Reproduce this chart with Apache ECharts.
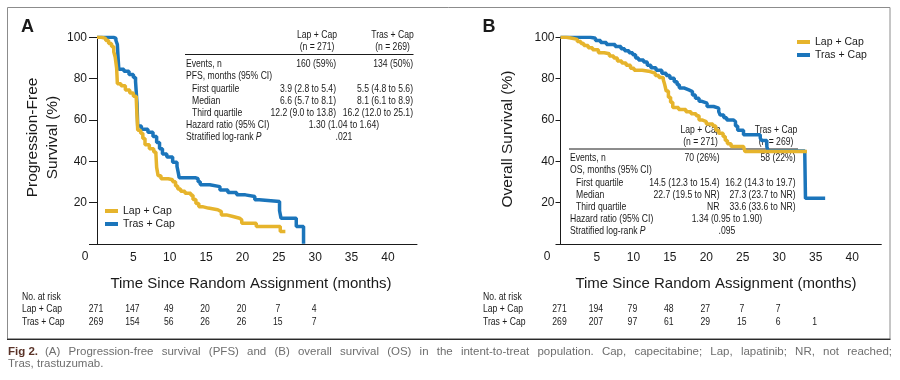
<!DOCTYPE html>
<html><head><meta charset="utf-8">
<script src="https://cdn.jsdelivr.net/npm/echarts@6/dist/echarts.min.js"></script>
<style>html,body{margin:0;padding:0;background:#fff}#c{width:900px;height:380px}</style>
</head><body><div id="c"></div>
<script>
// ---- data ----
const seriesNames = ['Lap + Cap', 'Tras + Cap'];
const xTickLabels = [5, 10, 15, 20, 25, 30, 35, 40];
const yTickLabels = [20, 40, 60, 80, 100];

const pfsLap = [[0,100],[0.6,99.5],[1.2,98.5],[1.6,97],[2,95.5],[2.3,93],[2.5,90.5],[2.7,85],[2.8,77.5],[3.3,76.5],[3.9,74.5],[4.5,73],[5,71.5],[5.4,70],[5.5,62],[5.6,55],[6,53.5],[6.3,51],[6.6,48],[7.2,46],[7.8,44.5],[8.1,43.5],[8.2,37],[8.4,33],[8.8,31.5],[9.8,31],[10.4,30],[10.8,28],[11.1,26.5],[11.5,25.5],[12.1,24.5],[12.9,23.5],[13.2,21.5],[13.6,19.5],[14,18],[14.5,17.3],[15.3,16.5],[16.6,15.6],[17.1,14],[17.8,13.2],[18.7,12.4],[19.6,11.6],[19.9,10],[21.9,8.4],[25.2,6],[25.9,6]];
const pfsTras = [[0,100],[1.5,100],[2.3,99.5],[2.6,98.5],[2.8,96.5],[2.9,90],[3,84.5],[3.7,83.5],[4.4,82],[5,80.5],[5.3,78.5],[5.5,68],[5.6,57],[6.1,55.5],[7,54],[7.7,52],[8.2,49],[8.6,46],[9,43.5],[9.6,42],[10.4,39.5],[11,37.5],[11.2,34],[11.3,32],[13.5,31.5],[13.9,30],[14.2,28.6],[15.5,27.7],[16.9,26.1],[18,24.8],[19.2,23.7],[20.4,22.9],[21.7,21.3],[22.3,20.5],[25.1,16],[25.3,12.4],[27.4,8.4],[28.4,0]];
const osLap = [[0,100],[0.8,99.5],[1.6,99],[2.3,98],[2.8,97],[3.2,96],[3.8,95],[4.4,94],[5.2,92.5],[6,92],[6.7,91],[7.3,90],[7.8,88.5],[8.4,87.5],[9,86.5],[9.6,85],[10.1,84],[11.2,83.4],[12.3,82.6],[13,81.5],[13.5,80.5],[14.1,79.4],[14.3,77],[14.5,74],[14.8,71],[15.1,68.5],[15.4,66],[16.2,65],[17.2,64],[17.9,63],[18.6,62],[19,60],[19.4,59.2],[20,58],[20.9,57],[21.3,55],[21.7,53.5],[22.3,52],[22.6,50],[22.9,48.5],[23.4,47.1],[25.1,46.3],[25.3,44.7],[33.8,44.7]];
const osTras = [[0,100],[3.5,100],[4.1,99.5],[4.8,98.5],[5.5,97.5],[6.3,96.5],[7.5,95.5],[8.3,94.5],[8.8,93.5],[9.4,92.5],[9.9,91.5],[10.3,90],[10.7,89],[11.4,88],[11.9,86.5],[12.4,85.3],[13.1,84],[13.9,82.6],[14.5,81.5],[15,80.2],[15.6,78.5],[16,77],[16.3,75.4],[17,74.5],[17.6,73.7],[18.1,72],[18.5,70.5],[19,69],[19.4,68.1],[20.1,66.5],[21,65.7],[21.7,64],[21.9,62.4],[22.4,61],[22.8,60],[23.7,59.2],[24,57],[24.3,55],[25.1,52.8],[27.4,51.2],[27.6,50],[28.3,47],[28.5,45],[33.5,44.7],[33.6,22],[36.3,22]];

const riskTimes = [0, 5, 10, 15, 20, 25, 30, 35];
const pfsRiskLap = [271, 147, 49, 20, 20, 7, 4];
const pfsRiskTras = [269, 154, 56, 26, 26, 15, 7];
const osRiskLap = [271, 194, 79, 48, 27, 7, 7];
const osRiskTras = [269, 207, 97, 61, 29, 15, 6, 1];

const pfsHeader = [['Lap + Cap', '(n = 271)'], ['Tras + Cap', '(n = 269)']];
const osHeader = [['Lap + Cap', '(n = 271)'], ['Tras + Cap', '(n = 269)']];
const pfsRows = [
  ['Events, n', '160 (59%)', '134 (50%)', 0],
  ['PFS, months (95% CI)', '', '', 0],
  ['First quartile', '3.9 (2.8 to 5.4)', '5.5 (4.8 to 5.6)', 1],
  ['Median', '6.6 (5.7 to 8.1)', '8.1 (6.1 to 8.9)', 1],
  ['Third quartile', '12.2 (9.0 to 13.8)', '16.2 (12.0 to 25.1)', 1]
];
const pfsHazard = '1.30 (1.04 to 1.64)', pfsP = '.021';
const osRows = [
  ['Events, n', '70 (26%)', '58 (22%)', 0],
  ['OS, months (95% CI)', '', '', 0],
  ['First quartile', '14.5 (12.3 to 15.4)', '16.2 (14.3 to 19.7)', 1],
  ['Median', '22.7 (19.5 to NR)', '27.3 (23.7 to NR)', 1],
  ['Third quartile', 'NR', '33.6 (33.6 to NR)', 1]
];
const osHazard = '1.34 (0.95 to 1.90)', osP = '.095';
const captionLine1 = '(A) Progression-free survival (PFS) and (B) overall survival (OS) in the intent-to-treat population. Cap, capecitabine; Lap, lapatinib; NR, not reached;';
const captionLine2 = 'Tras, trastuzumab.';

// ---- styles ----
const LAP = '#E6B42C', TRAS = '#1B75BB';
const SANS = "'Liberation Sans', Arial, Helvetica, sans-serif";
const NFONT = '10.5px ' + SANS, NSX = 0.82;   // condensed look via horizontal scale
const INK = '#1a1a1a';

const chart = echarts.init(document.getElementById('c'), null, {renderer: 'canvas'});

function xAxisCfg(gi) {
  return {
    type: 'value', gridIndex: gi, min: 0, max: 44, interval: 5,
    axisLine: {lineStyle: {color: INK, width: 1}},
    axisTick: {show: false}, splitLine: {show: false},
    axisLabel: {margin: 8, fontSize: 12, fontFamily: SANS, color: INK,
      formatter: v => (xTickLabels.indexOf(v) >= 0 ? String(v) : '')}
  };
}
function yAxisCfg(gi, tickLen, margin) {
  return {
    type: 'value', gridIndex: gi, min: 0, max: 100, interval: 20,
    axisLine: {show: true, lineStyle: {color: INK, width: 1}},
    axisTick: {show: true, length: tickLen, lineStyle: {color: INK}},
    splitLine: {show: false},
    axisLabel: {margin: margin, fontSize: 12, fontFamily: SANS, color: INK,
      formatter: v => (yTickLabels.indexOf(v) >= 0 ? String(v) : '')}
  };
}
function line(name, data, color, gi) {
  return {type: 'line', name, data, step: 'end', showSymbol: false, symbol: 'none',
    xAxisIndex: gi, yAxisIndex: gi, lineStyle: {color, width: 3.5}, itemStyle: {color},
    emphasis: {disabled: true}};
}
function legendCfg(left, top) {
  return {data: seriesNames, left, top, orient: 'vertical', padding: 0, icon: 'rect',
    itemWidth: 13, itemHeight: 4, itemGap: 1,
    textStyle: {fontFamily: SANS, fontSize: 10.5, color: INK, lineHeight: 12}};
}

chart.setOption({
  animation: false,
  grid: [
    {left: 97, top: 37.3, width: 320, height: 206.5},
    {left: 560.5, top: 37.3, width: 320.8, height: 206.5}
  ],
  xAxis: [xAxisCfg(0), xAxisCfg(1)],
  yAxis: [yAxisCfg(0, 8, 10), yAxisCfg(1, 5, 6)],
  legend: [legendCfg(105, 205), legendCfg(797, 36)],
  series: [
    line(seriesNames[1], pfsTras, TRAS, 0),
    line(seriesNames[0], pfsLap, LAP, 0),
    line(seriesNames[1], osTras, TRAS, 1),
    line(seriesNames[0], osLap, LAP, 1)
  ]
});

// ---- annotations ----
const els = [];
function txt(x, y, text, opt) {
  opt = opt || {};
  const narrow = opt.font === undefined;
  els.push({type: 'text', x, y, rotation: opt.rot || 0, scaleX: narrow ? NSX : 1, silent: true,
    style: {text, font: narrow ? NFONT : opt.font, fill: opt.fill || INK,
      textAlign: opt.align || 'left', textVerticalAlign: 'middle', lineHeight: opt.lh}});
}
function hline(x1, x2, y, color, w) {
  els.push({type: 'line', silent: true, shape: {x1, y1: y, x2, y2: y}, style: {stroke: color, lineWidth: w}});
}

// frame
els.push({type: 'rect', silent: true, shape: {x: 7.5, y: 7.5, width: 882.5, height: 331.5},
  style: {fill: 'none', stroke: '#8c8c8c', lineWidth: 1}});
hline(7, 890.5, 339.3, '#2a2a2a', 1.3);

// panel letters
txt(27.5, 27.5, 'A', {font: 'bold 18px ' + SANS, align: 'center'});
txt(489, 27.5, 'B', {font: 'bold 18px ' + SANS, align: 'center'});

// axis titles
txt(43, 137.5, 'Progression-Free\nSurvival (%)', {font: '15.5px ' + SANS, align: 'center', rot: Math.PI / 2, lh: 20});
txt(508, 139, 'Overall Survival (%)', {font: '15.5px ' + SANS, align: 'center', rot: Math.PI / 2});
txt(251, 283.5, 'Time Since Random Assignment (months)', {font: '15px ' + SANS, align: 'center'});
txt(716, 283.5, 'Time Since Random Assignment (months)', {font: '15px ' + SANS, align: 'center'});
txt(85, 257, '0', {font: '12px ' + SANS, align: 'center'});
txt(547, 257, '0', {font: '12px ' + SANS, align: 'center'});

// stats tables
function table(hdr, rows, hazard, p, o) {
  const colR = o.colR, colC = o.colC;
  hdr.forEach((h, i) => { txt(colC[i], o.hy, h[0], {align: 'center'}); txt(colC[i], o.hy + 12.3, h[1], {align: 'center'}); });
  hline(o.x0, o.x1, o.ry, INK, 1);
  rows.forEach((r, k) => {
    const y = o.y0 + k * 12.1;
    txt(r[3] ? o.x0 + 7 : o.x0 + 1, y, r[0]);
    if (r[1]) txt(colR[0], y, r[1], {align: 'right'});
    if (r[2]) txt(colR[1], y, r[2], {align: 'right'});
  });
  const yh = o.y0 + 5 * 12.1, yp = o.y0 + 6 * 12.1;
  txt(o.x0 + 1, yh, 'Hazard ratio (95% CI)');
  txt(o.mid, yh, hazard, {align: 'center'});
  els.push({type: 'text', x: o.x0 + 1, y: yp, scaleX: NSX, silent: true,
    style: {text: '{n|Stratified log-rank }{i|P}', textVerticalAlign: 'middle',
      rich: {n: {fontFamily: SANS, fontSize: 10.5, fill: INK}, i: {fontFamily: SANS, fontSize: 10.5, fontStyle: 'italic', fill: INK}}}});
  txt(o.mid, yp, p, {align: 'center'});
}
table(pfsHeader, pfsRows, pfsHazard, pfsP, {colR: [336, 413], colC: [317, 392.5], hy: 35, ry: 54.5, x0: 185, x1: 413.5, y0: 64.5, mid: 344});
table(osHeader, osRows, osHazard, osP, {colR: [719.5, 795.5], colC: [700.5, 776], hy: 130, ry: 149, x0: 569, x1: 798, y0: 158.5, mid: 727});

// numbers at risk
function risk(gi, lx, lap, tras) {
  txt(lx, 296.7, 'No. at risk');
  txt(lx, 309.3, 'Lap + Cap');
  txt(lx, 321.7, 'Tras + Cap');
  lap.forEach((v, i) => { const px = chart.convertToPixel({xAxisIndex: gi}, riskTimes[i]); txt(px - 1, 309.3, String(v), {align: 'center'}); });
  tras.forEach((v, i) => { const px = chart.convertToPixel({xAxisIndex: gi}, riskTimes[i]); txt(px - 1, 321.7, String(v), {align: 'center'}); });
}
risk(0, 22, pfsRiskLap, pfsRiskTras);
risk(1, 483, osRiskLap, osRiskTras);

// caption (justified)
const capFont = '11.5px ' + SANS, capFill = '#6e6e6e';
txt(8, 351.7, 'Fig 2.', {font: 'bold 11.5px ' + SANS, fill: '#5a3328'});
(function () {
  const ctx = document.createElement('canvas').getContext('2d');
  ctx.font = capFont;
  const words = captionLine1.split(' ');
  const w = words.map(s => ctx.measureText(s).width);
  const total = w.reduce((a, b) => a + b, 0);
  const gap = (892 - 45 - total) / (words.length - 1);
  let x = 45;
  words.forEach((s, i) => { txt(x, 351.7, s, {font: capFont, fill: capFill}); x += w[i] + gap; });
})();
txt(8, 364.3, captionLine2, {font: capFont, fill: capFill});

chart.setOption({graphic: {elements: els}});
</script></body></html>
